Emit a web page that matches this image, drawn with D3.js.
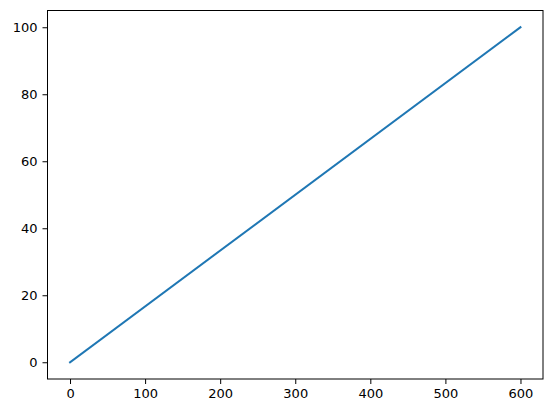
<!DOCTYPE html>
<html>
<head>
<meta charset="utf-8">
<script src="https://d3js.org/d3.v7.min.js"></script>
<style>
  body { margin: 0; background: #fff; }
  text { font-family: "DejaVu Sans", sans-serif; }
</style>
</head>
<body>
<div id="chart"></div>
<script>
// Data
const xValues = [0, 600];
const yValues = [0, 100];
const xTicks = [0, 100, 200, 300, 400, 500, 600];
const yTicks = [0, 20, 40, 60, 80, 100];

const width = 552;
const height = 413;

const svg = d3.select('#chart')
    .append('svg')
    .attr('width', width)
    .attr('height', height);

// axes box, same 5% margins as matplotlib
const x = d3.scaleLinear().domain([-30, 630]).range([47.5, 543]);
const y = d3.scaleLinear().domain([-5, 105]).range([379, 10.5]);

const line = d3.line()
    .x((d, i) => x(xValues[i]))
    .y(d => y(d));

svg.append('path')
    .datum(yValues)
    .attr('d', line)
    .attr('fill', 'none')
    .attr('stroke', '#1f77b4')
    .attr('stroke-width', 2)
    .attr('stroke-linecap', 'square');

const xAxis = svg.append('g')
    .attr('transform', `translate(0,${y.range()[0]})`)
    .call(d3.axisBottom(x).tickValues(xTicks).tickSize(5).tickPadding(5).tickFormat(d3.format('d')));

const yAxis = svg.append('g')
    .attr('transform', `translate(${x.range()[0]},0)`)
    .call(d3.axisLeft(y).tickValues(yTicks).tickSize(5).tickPadding(5).tickFormat(d3.format('d')));

[xAxis, yAxis].forEach(g => {
    g.select('.domain').remove();
    g.selectAll('line').attr('stroke', '#000').attr('stroke-width', 1);
    g.selectAll('text').attr('font-size', 13).attr('fill', '#000')
        .style('font-family', '"DejaVu Sans", sans-serif');
});

// frame
svg.append('rect')
    .attr('x', x.range()[0])
    .attr('y', y.range()[1])
    .attr('width', x.range()[1] - x.range()[0])
    .attr('height', y.range()[0] - y.range()[1])
    .attr('fill', 'none')
    .attr('stroke', '#000')
    .attr('stroke-width', 1);
</script>
</body>
</html>
